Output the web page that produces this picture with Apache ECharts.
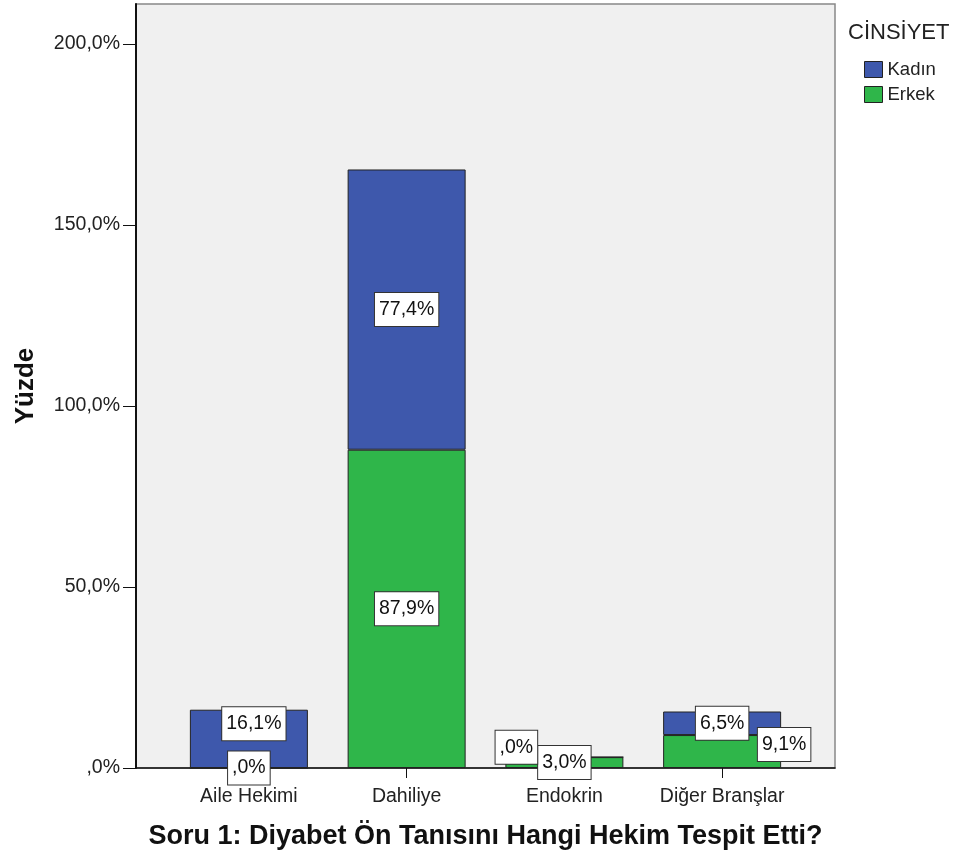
<!DOCTYPE html>
<html>
<head>
<meta charset="utf-8">
<script src="https://cdn.jsdelivr.net/npm/echarts@6/dist/echarts.min.js"></script>
<style>
  html, body { margin: 0; padding: 0; background: #fff; }
  #chart { width: 958px; height: 857px; }
</style>
</head>
<body>
<div id="chart"></div>
<script>
// veriler
var categories = ['Aile Hekimi', 'Dahiliye', 'Endokrin', 'Diğer Branşlar'];
var kadin = [16.1, 77.4, 0, 6.5];
var erkek = [0, 87.9, 3.0, 9.1];

// SPSS etiketleri üst üste binmesin diye kaydırıyor
var labelShift = {
    'Kadın': [[5, -15], [0, 0], [-48, -10], [0, 0]],
    'Erkek': [[0, 0], [0, 0], [0, 0], [62, -7]]
};

var FONT = '"Liberation Sans", Arial, sans-serif';

function fmt(v) {
    var s = Number(v).toFixed(1).replace('.', ',');
    if (s.indexOf('0,') === 0) s = s.slice(1);
    return s + '%';
}

function buildData(name, values) {
    return values.map(function (v, i) {
        return { value: v, label: { offset: labelShift[name][i] } };
    });
}

var barLabel = {
    show: true,
    position: 'inside',
    formatter: function (p) { return fmt(p.value); },
    fontFamily: FONT,
    fontSize: 19.5,
    color: '#111',
    backgroundColor: '#fff',
    borderColor: '#333',
    borderWidth: 1,
    padding: [5, 4, 4, 4],
    lineHeight: 24
};

var chart = echarts.init(document.getElementById('chart'));
chart.setOption({
    animation: false,
    backgroundColor: '#fff',
    textStyle: { fontFamily: FONT },
    title: {
        text: 'CİNSİYET',
        left: 843,
        top: 17,
        textStyle: { fontFamily: FONT, fontSize: 22, fontWeight: 'normal', color: '#222' }
    },
    legend: {
        data: ['Kadın', 'Erkek'],
        orient: 'vertical',
        left: 859,
        top: 55,
        icon: 'rect',
        itemWidth: 18,
        itemHeight: 16,
        itemGap: 6,
        itemStyle: { borderColor: '#222', borderWidth: 1 },
        textStyle: { fontFamily: FONT, fontSize: 18.5, color: '#222' }
    },
    grid: [
        // çerçeve
        { left: 136, top: 4, width: 699, height: 764, show: true,
          backgroundColor: '#f0f0f0', borderColor: '#888', borderWidth: 1.5 },
        // çubuklar
        { left: 170, top: 4, width: 631, height: 764 }
    ],
    xAxis: [
        {
            gridIndex: 0, type: 'value', min: 0, max: 1,
            axisLine: { show: true, lineStyle: { color: '#111', width: 1.5 } },
            axisTick: { show: false }, axisLabel: { show: false }, splitLine: { show: false },
            name: 'Soru 1: Diyabet Ön Tanısını Hangi Hekim Tespit Etti?',
            nameLocation: 'middle',
            nameGap: 55,
            nameTextStyle: { fontFamily: FONT, fontSize: 27, fontWeight: 'bold', color: '#111' }
        },
        {
            gridIndex: 1, type: 'category', data: categories,
            axisLine: { show: false },
            axisTick: { show: true, interval: 0, alignWithLabel: true, length: 10, lineStyle: { color: '#111' } },
            axisLabel: { interval: 0, margin: 19, fontFamily: FONT, fontSize: 19.5, color: '#222' }
        }
    ],
    yAxis: [
        {
            gridIndex: 0, type: 'value', min: 0, max: 211, interval: 50,
            axisLine: { show: true, lineStyle: { color: '#111', width: 2 } },
            axisTick: { show: true, length: 13, lineStyle: { color: '#111' } },
            axisLabel: { margin: 16, fontFamily: FONT, fontSize: 19.5, color: '#222', formatter: fmt,
                         showMaxLabel: false },
            splitLine: { show: false },
            name: 'Yüzde',
            nameLocation: 'middle',
            nameGap: 97,
            nameTextStyle: { fontFamily: FONT, fontSize: 26, fontWeight: 'bold', color: '#111' }
        },
        { gridIndex: 1, type: 'value', min: 0, max: 211, show: false }
    ],
    series: [
        {
            name: 'Erkek', type: 'bar', stack: 'toplam', xAxisIndex: 1, yAxisIndex: 1,
            barWidth: 118,
            itemStyle: { color: '#2fb64a', borderColor: '#222', borderWidth: 1 },
            label: barLabel,
            data: buildData('Erkek', erkek)
        },
        {
            name: 'Kadın', type: 'bar', stack: 'toplam', xAxisIndex: 1, yAxisIndex: 1,
            barWidth: 118,
            itemStyle: { color: '#3e58ac', borderColor: '#222', borderWidth: 1 },
            label: barLabel,
            data: buildData('Kadın', kadin)
        }
    ]
});
</script>
</body>
</html>
